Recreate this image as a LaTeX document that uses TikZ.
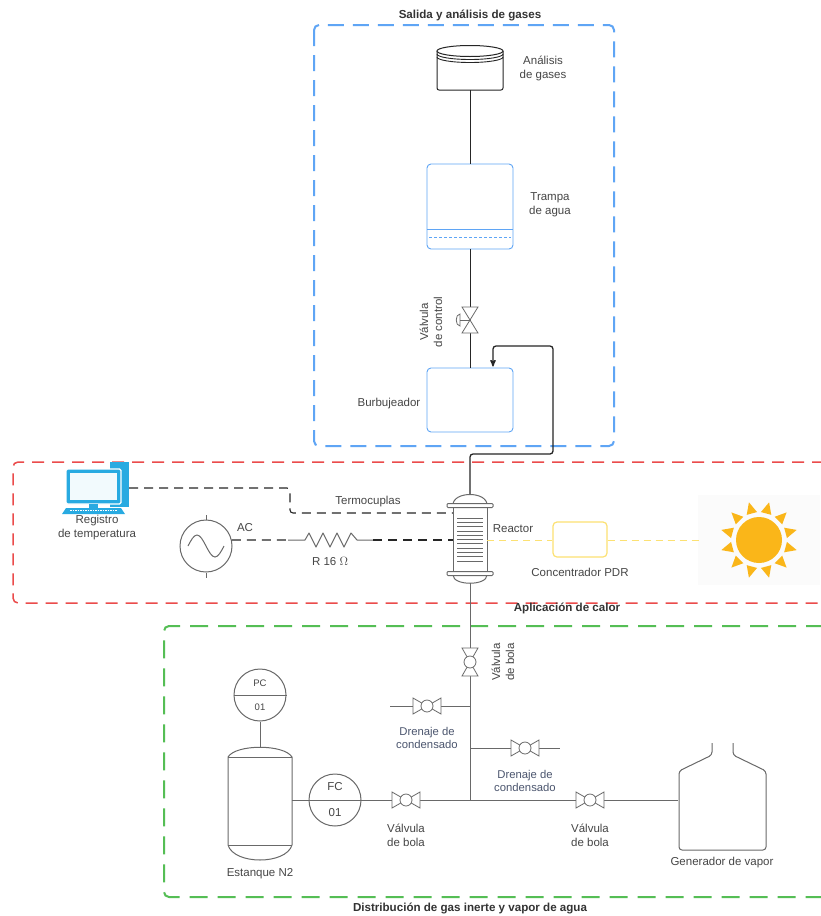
\documentclass[tikz,border=0pt]{standalone}
\usepackage{fontspec}
\setmainfont{Liberation Sans}
\usepackage{tikz}
\usetikzlibrary{arrows, positioning, calc}

\definecolor{gasblue}{RGB}{95,165,245}
\definecolor{heatred}{RGB}{235,75,75}
\definecolor{feedgreen}{RGB}{85,190,85}
\definecolor{pipegray}{RGB}{105,105,105}
\definecolor{txt}{RGB}{70,70,70}
\definecolor{drain}{RGB}{75,85,110}
\definecolor{pcblue}{RGB}{40,170,225}
\definecolor{sunorange}{RGB}{250,182,25}
\definecolor{pdryellow}{RGB}{252,225,115}

\begin{document}
\begin{tikzpicture}[x=1pt,y=-1pt,>=stealth',
	lbl/.style={font=\fontsize{11.5}{14}\selectfont,text=txt,align=center},
	drain lbl/.style={font=\fontsize{11.3}{13.5}\selectfont,text=drain,align=center},
	zone title/.style={font=\fontsize{11.6}{13}\selectfont\bfseries,text=black!80},
	vessel/.style={draw=gasblue,line width=0.9pt,rounded corners=4pt,minimum width=86pt,inner sep=0pt},
	pipe/.style={draw=pipegray,line width=1pt},
	wire/.style={draw=black!85,line width=1.1pt,dash pattern=on 9pt off 6pt},
	instrument/.style={circle,draw=pipegray,line width=1pt,fill=white,minimum size=52pt,inner sep=0pt},
	ballvalve/.pic={
		\draw[pipegray,line width=0.8pt,fill=white] (-14,-8) -- (-14,8) -- (14,-8) -- (14,8) -- cycle;
		\draw[pipegray,line width=0.8pt,fill=white] (0,0) circle (6);
	},
	ctrlvalve/.pic={
		\draw[pipegray,line width=0.8pt,fill=white] (-8,-13) -- (8,-13) -- (-8,13) -- (8,13) -- cycle;
		\draw[pipegray,line width=0.8pt] (0,0) -- (-10,0);
		\draw[pipegray,line width=0.8pt,fill=white] (-10,-6) .. controls (-15,-6) and (-15,6) .. (-10,6) -- cycle;
	}]
	
	\useasboundingbox (0,0) rectangle (820,916);
	\fill[white] (0,0) rectangle (820,916);
	
	% zonas
	\draw[gasblue,line width=2pt,dash pattern=on 16pt off 9pt,rounded corners=5pt] (314,25) rectangle (614,446);
	\draw[heatred,line width=1.5pt,dash pattern=on 12pt off 8pt,rounded corners=5pt] (824,462) -- (13,462) -- (13,603) -- (824,603);
	\draw[feedgreen,line width=2pt,dash pattern=on 18pt off 10pt,rounded corners=5pt] (824,626) -- (164,626) -- (164,897) -- (824,897);
	
	\node[zone title] (t-gas) at (470,15) {Salida y análisis de gases};
	\node[zone title] (t-heat) at (567,608) {Aplicación de calor};
	\node[zone title] (t-feed) at (470,908) {Distribución de gas inerte y vapor de agua};
	
	% salida de gases
	\node[minimum width=66pt,minimum height=44pt,inner sep=0pt] (analisis) at (470,68) {};
	\draw[black!85,line width=1pt,rounded corners=2pt] (437,51) -- (437,90) -- (503,90) -- (503,51);
	\draw[black!85,line width=1pt,fill=white] (470,51) ellipse (33 and 5.5);
	\draw[black!85,line width=0.9pt] (437,54) arc[start angle=180,end angle=0,x radius=33,y radius=5.5];
	\draw[black!85,line width=0.9pt] (437,57) arc[start angle=180,end angle=0,x radius=33,y radius=5.5];
	\node[lbl] at (543,68) {Análisis\\de gases};
	
	\node[vessel,minimum height=85pt] (trampa) at (470,206.5) {};
	\draw[gasblue,line width=0.9pt] (427,229) -- (513,229);
	\draw[gasblue,line width=1pt,dash pattern=on 3pt off 2pt] (429,237) -- (511,237);
	\node[lbl] at (550,205) {Trampa\\de agua};
	
	\node[vessel,minimum height=64pt] (burbujeador) at (470,400) {};
	\node[lbl] at (389,404) {Burbujeador};
	
	\coordinate (vc) at (470,320);
	\draw[black!85,line width=1pt] (analisis.south) -- (trampa.north);
	\draw[black!85,line width=1pt] (trampa.south) -- (burbujeador.north);
	\pic at (vc) {ctrlvalve};
	\node[lbl,rotate=90] at (431,322) {Válvula\\de control};
	
	% aplicacion de calor
	\node[minimum width=34pt,minimum height=89pt,inner sep=0pt] (reactor) at (470,538.5) {};
	\begin{scope}[pipegray,line width=1pt]
		\draw[fill=white] (453,505) .. controls (453,491) and (487,491) .. (487,505);
		\draw[fill=white] (453,575) .. controls (453,586) and (487,586) .. (487,575);
		\draw (453,505) rectangle (487,573);
		\draw[fill=white,rounded corners=1pt] (447,503.5) rectangle (493,507.5);
		\draw[fill=white,rounded corners=1pt] (447,571.5) rectangle (493,575.5);
		\foreach \i in {0,...,10}
			\draw[line width=0.8pt] (457,518+4.3*\i) -- (483,518+4.3*\i);
	\end{scope}
	\node[lbl] at (513,529) {Reactor};
	
	\coordinate (retorno) at (553,346);
	\draw[black!85,line width=1.3pt,rounded corners=3pt,->,shorten >=1pt] (reactor.north) -- (470,454) -| (retorno) -| ([xshift=23pt]burbujeador.north);
	
	% registro
	\node[minimum width=64pt,minimum height=50pt,inner sep=0pt] (registro) at (97,488) {};
	\fill[pcblue] (110,462) rectangle (129,507);
	\draw[white,line width=1.2pt,fill=pcblue,rounded corners=1.5pt] (66,469) rectangle (121,504);
	\fill[white!94!pcblue] (70,472.5) rectangle (117,499.5);
	\fill[pcblue] (89,504) rectangle (98,508);
	\fill[pcblue] (62,514) -- (66,508) -- (121,508) -- (125,514) -- cycle;
	\draw[white,line width=0.6pt,dash pattern=on 1.5pt off 1pt] (70,510.5) -- (117,510.5);
	\node[lbl] at (97,528) {Registro\\de temperatura};
	
	\coordinate (pc-out) at (129,488);
	\coordinate (tc) at (290,513);
	\draw[wire,rounded corners=3pt] (pc-out) -| (tc) -- (reactor.west |- tc);
	\node[lbl] at (368,502) {Termocuplas};
	
	% fuente y resistencia
	\node[circle,draw=pipegray,line width=1pt,minimum size=52pt,inner sep=0pt] (ac) at (206,546) {};
	\draw[pipegray,line width=1pt] (ac.north) -- ++(0,-5);
	\draw[pipegray,line width=1pt] (ac.south) -- ++(0,5);
	\draw[pipegray,line width=1pt] (188,546) sin (197,535) cos (206,546) sin (215,557) cos (224,546);
	\node[lbl] at (245,528) {AC};
	
	\coordinate (r-in) at (288,540);
	\coordinate (r-out) at (373,540);
	\draw[wire] (ac.13) -- (r-in);
	\draw[pipegray,line width=1pt,line join=round] (r-in) -- (305,540) -- (309,533) -- (316,547) -- (323,533) -- (330,547)
		-- (337,533) -- (344,547) -- (351,533) -- (357,540) -- (r-out);
	\draw[wire] (r-out) -- (reactor.west |- r-out);
	\node[lbl] at (330,561) {R 16 $\Omega$};
	
	% concentrador y sol
	\node[draw=pdryellow,line width=1.2pt,rounded corners=4pt,minimum width=54pt,minimum height=35pt,inner sep=0pt] (conc) at (580,539.5) {};
	\node[lbl] at (580,572) {Concentrador PDR};
	\fill[black!1.5] (698,495) rectangle (820,585);
	\node[circle,fill=sunorange,minimum size=46pt,inner sep=0pt] (sol) at (759,540) {};
	\foreach \a in {15,45,...,345}
		\fill[sunorange] ([shift={(\a-11:28)}]sol.center) -- ([shift={(\a:39)}]sol.center) -- ([shift={(\a+11:28)}]sol.center) -- cycle;
	\coordinate (sol-in) at (702,540);
	\draw[pdryellow,line width=1pt,dash pattern=on 7pt off 5pt] (reactor.east |- r-out) -- (conc.west |- r-out);
	\draw[pdryellow,line width=1pt,dash pattern=on 7pt off 5pt] (conc.east |- r-out) -- (sol-in);
	
	% distribucion de gas y vapor
	\coordinate (nudo) at (470,800);
	\coordinate (d1) at (470,706);
	\coordinate (d1-end) at (390,706);
	\coordinate (d2) at (470,748);
	\coordinate (d2-end) at (560,748);
	\draw[pipe] (reactor.south) -- (nudo);
	\path[pipe] (d1) edge (d1-end) (d2) edge (d2-end);
	\pic[rotate=90] at (470,662) {ballvalve};
	\pic at (427,706) {ballvalve};
	\pic at (525,748) {ballvalve};
	\node[lbl,rotate=90] at (503,662) {Válvula\\de bola};
	\node[drain lbl] at (427,738) {Drenaje de\\condensado};
	\node[drain lbl] at (525,781) {Drenaje de\\condensado};
	
	% estanque N2
	\node[minimum width=64pt,minimum height=113pt,inner sep=0pt] (estanque) at (260,803.5) {};
	\draw[pipegray,line width=1pt] (228,757) .. controls (236,744) and (284,744) .. (292,757) -- (292,845)
		.. controls (286,865) and (234,865) .. (228,845) -- cycle;
	\draw[pipegray,line width=1pt] (228,757) -- (292,757) (228,845) -- (292,845);
	\node[lbl] at (260,874) {Estanque N2};
	
	\node[instrument] (pc) at (260,695) {};
	\draw[pipegray,line width=1pt] (pc.west) -- (pc.east);
	\node[font=\fontsize{9.5}{11}\selectfont,text=txt] at (260,683) {PC};
	\node[font=\fontsize{9.5}{11}\selectfont,text=txt] at (260,707) {01};
	\draw[pipe] (pc.south) -- (estanque.north);
	
	\node[instrument] (fc) at (335,800) {};
	\node[lbl] at (335,787) {FC};
	\node[lbl] at (335,813) {01};
	
	% generador de vapor
	\node[minimum width=88pt,minimum height=107pt,inner sep=0pt] (generador) at (722,796.5) {};
	\draw[pipegray,line width=1pt,rounded corners=3pt] (712,743) -- (712,755) -- (679,771) -- (679,850)
		-- (766,850) -- (766,771) -- (733,755) -- (733,743);
	\node[lbl] at (722,863) {Generador de vapor};
	
	\draw[pipe] (estanque.east |- fc) -- (fc.west);
	\draw[pipe] (fc.west) -- (fc.east);
	\draw[pipe] (fc.east) -- (nudo) -- (generador.west |- nudo);
	\pic at (406,800) {ballvalve};
	\pic at (590,800) {ballvalve};
	\node[lbl] at (406,835) {Válvula\\de bola};
	\node[lbl] at (590,835) {Válvula\\de bola};
	
\end{tikzpicture}
\end{document}
